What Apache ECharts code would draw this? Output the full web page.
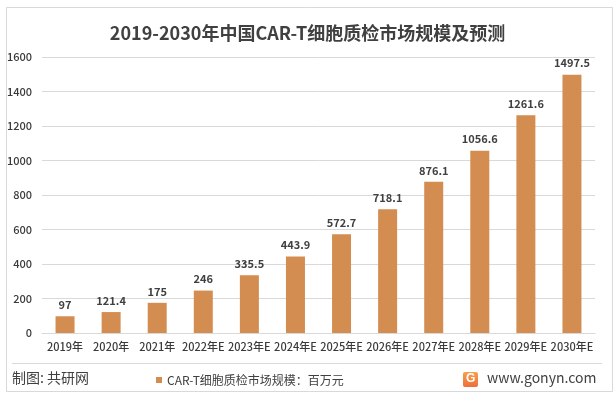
<!DOCTYPE html>
<html><head><meta charset="utf-8">
<script src="https://cdn.jsdelivr.net/npm/echarts@6/dist/echarts.min.js"></script>
<style>html,body{margin:0;padding:0;background:#fff}#c{width:615px;height:394px}</style>
</head><body><div id="c"></div>
<script>
var categories = ['2019年','2020年','2021年','2022年E','2023年E','2024年E','2025年E','2026年E','2027年E','2028年E','2029年E','2030年E'];
var values = [97,121.4,175,246,335.5,443.9,572.7,718.1,876.1,1056.6,1261.6,1497.5];
var seriesName = 'CAR-T细胞质检市场规模：百万元';
var titleText = '2019-2030年中国CAR-T细胞质检市场规模及预测';
var yTicks = {min:0, max:1600, interval:200};

var chart = echarts.init(document.getElementById('c'), null, {renderer:'canvas'});
var font = '"Microsoft YaHei","Noto Sans CJK SC",sans-serif';
chart.setOption({
  backgroundColor:'#fff',
  animation:false,
  title:{text:titleText, left:'center', top:19, textStyle:{fontFamily:font, fontSize:18, fontWeight:'bold', color:'#404040'}},
  grid:{left:42, right:20, top:57, bottom:61, containLabel:false},
  legend:{data:[seriesName], left:151, top:369, itemWidth:6, itemHeight:6, icon:'rect', itemGap:4,
    textStyle:{fontFamily:font, fontSize:12, color:'#404040'}},
  xAxis:{type:'category', data:categories,
    axisLine:{lineStyle:{color:'#d9d9d9'}}, axisTick:{show:false},
    axisLabel:{fontFamily:font, fontSize:11, fontWeight:500, color:'#3a3a3a', interval:0, margin:8}},
  yAxis:{type:'value', min:yTicks.min, max:yTicks.max, interval:yTicks.interval,
    axisLine:{show:false}, axisTick:{show:false},
    splitLine:{lineStyle:{color:'#d9d9d9'}},
    axisLabel:{fontFamily:font, fontSize:11, fontWeight:500, color:'#3a3a3a', margin:10, formatter:function(v){return String(v);}}},
  series:[{name:seriesName, type:'bar', data:values, barWidth:19, itemStyle:{color:'#D48D50'},
    label:{show:true, position:'top', distance:6, fontFamily:font, fontSize:11, fontWeight:'bold', color:'#404040'}}],
  graphic:[
    {type:'rect', left:4, top:5, shape:{width:606, height:384}, style:{fill:'none', stroke:'#d9d9d9', lineWidth:1}, silent:true, z:-1},
    {type:'line', shape:{x1:12, y1:363.5, x2:602, y2:363.5}, style:{stroke:'#d9d9d9', lineWidth:1}},
    {type:'text', left:12, top:371, style:{text:'制图: 共研网', font:'14px '+font, fill:'#404040'}},
    {type:'group', left:463, top:371, children:[
      {type:'rect', shape:{x:0, y:0, width:15, height:15, r:2}, style:{fill:{type:'linear',x:0,y:0,x2:0,y2:1,colorStops:[{offset:0,color:'#F6A04E'},{offset:1,color:'#EE6E3A'}]}}},
      {type:'text', style:{x:3, y:1, text:'G', font:'bold 12px sans-serif', fill:'#fff'}},
      {type:'text', style:{x:24, y:-1, text:'www.gonyn.com', font:'14px '+font, fill:'#404040'}}
    ]}
  ]
});
</script></body></html>
